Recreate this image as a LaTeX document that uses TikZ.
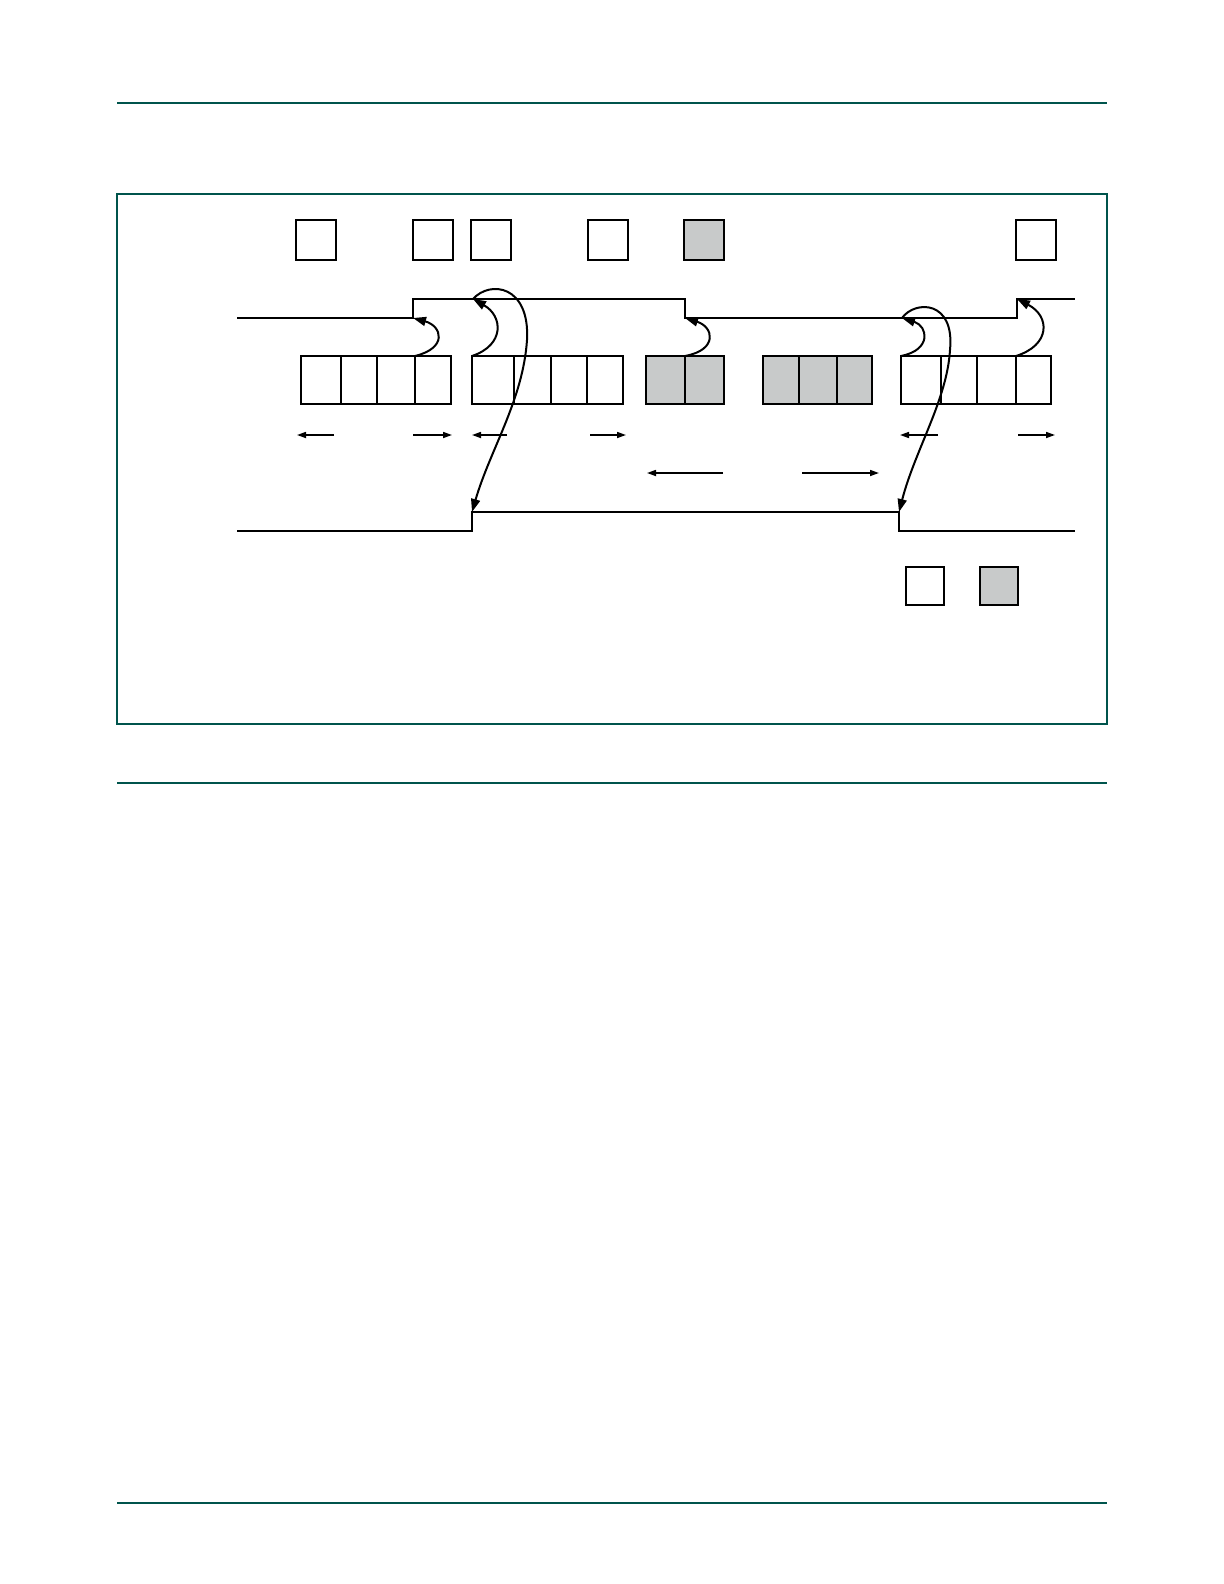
\documentclass[tikz,border=0pt]{standalone}
\usepackage{tikz}
\usetikzlibrary{arrows.meta,positioning}
\definecolor{rulegreen}{RGB}{0,84,76}
\definecolor{cellgray}{RGB}{200,202,202}

\begin{document}
\begin{tikzpicture}[x=0.5pt, y=-0.5pt,
	cell/.style = {draw, line width=1pt, minimum height=24pt, inner sep=0pt, outer sep=0pt},
	tag/.style = {draw, line width=1pt, minimum size=20pt, inner sep=0pt},
	busy/.style = {fill=cellgray},
	wave/.style = {line width=1pt},
	hop/.style = {line width=1pt, -{Triangle[length=6.5pt,width=4.5pt]}},
	dimline/.style = {line width=0.8pt, -{Triangle[length=4.5pt,width=3pt]}}]
	\useasboundingbox (0,0) rectangle (1224,1584);
	% page rules and frame
	\draw[rulegreen, line width=0.9pt] (117,103) -- (1107,103);
	\draw[rulegreen, line width=0.9pt] (117,194) rectangle (1107,724);
	\draw[rulegreen, line width=0.9pt] (117,783) -- (1107,783);
	\draw[rulegreen, line width=0.9pt] (117,1503) -- (1107,1503);
	% top tags
	\node[tag] (t1) at (315.5,240) {};
	\node[tag] (t2) at (432.5,240) {};
	\node[tag] (t3) at (491,240) {};
	\node[tag] (t4) at (607.5,240) {};
	\node[tag, busy] (t5) at (704,240) {};
	\node[tag] (t6) at (1035.5,240) {};
	% upper wave
	\coordinate (u1) at (413,318);
	\coordinate (u2) at (473,299);
	\coordinate (u3) at (685,318);
	\coordinate (u4) at (902,318);
	\coordinate (u5) at (1017,299);
	\draw[wave] (237,318) -- (u1) -- (413,299) -- (685,299) -- (u3) -- (1017,318) -- (u5) -- (1075,299);
	% lower wave
	\coordinate (l1) at (472,512);
	\coordinate (l2) at (899,512);
	\draw[wave] (237,531) -- (472,531) -- (l1) -- (l2) -- (899,531) -- (1075,531);
	% cell groups
	\node[cell, anchor=north west, minimum width=20pt] (c11) at (301,356) {};
	\node[cell, minimum width=18pt] [right=0pt of c11] (c12) {};
	\node[cell, minimum width=19pt] [right=0pt of c12] (c13) {};
	\node[cell, minimum width=18pt] [right=0pt of c13] (c14) {};
	\node[cell, anchor=north west, minimum width=21pt] (c21) at (472,356) {};
	\node[cell, minimum width=18.5pt] [right=0pt of c21] (c22) {};
	\node[cell, minimum width=18pt] [right=0pt of c22] (c23) {};
	\node[cell, minimum width=18pt] [right=0pt of c23] (c24) {};
	\node[cell, busy, anchor=north west, minimum width=19.5pt] (g11) at (646,356) {};
	\node[cell, busy, minimum width=19.5pt] [right=0pt of g11] (g12) {};
	\node[cell, busy, anchor=north west, minimum width=18pt] (g21) at (763,356) {};
	\node[cell, busy, minimum width=19pt] [right=0pt of g21] (g22) {};
	\node[cell, busy, minimum width=17.5pt] [right=0pt of g22] (g23) {};
	\node[cell, anchor=north west, minimum width=20pt] (c41) at (901,356) {};
	\node[cell, minimum width=18pt] [right=0pt of c41] (c42) {};
	\node[cell, minimum width=19.5pt] [right=0pt of c42] (c43) {};
	\node[cell, minimum width=17.5pt] [right=0pt of c43] (c44) {};
	% short hops to the upper wave
	\draw[hop] (c14.north west) .. controls (448,348) and (442,326) .. (u1);
	\draw[hop] (c21.north west) .. controls (505,345) and (503,316) .. (u2);
	\draw[hop] (g12.north west) .. controls (718,350) and (714,327) .. (u3);
	\draw[hop] (c41.north west) .. controls (932,350) and (928,326) .. (u4);
	\draw[hop] (c44.north west) .. controls (1051,345) and (1050,316) .. (u5);
	% long hops to the lower wave
	\draw[hop] (u2) .. controls (490,280) and (530,285) .. (527,340) .. controls (523,400) and (490,450) .. (l1);
	\draw[hop] (u4) .. controls (915,300) and (955,300) .. (950,350) .. controls (947,400) and (915,450) .. (l2);
	% spans
	\foreach \a/\b in {334/297, 413/452, 507/472, 590/626, 938/900, 1018/1055}
		\draw[dimline] (\a,435) -- (\b,435);
	\draw[dimline] (723,473) -- (647,473);
	\draw[dimline] (802,473) -- (879,473);
	% bottom tags
	\node[tag, minimum size=19pt] (k1) at (925,586) {};
	\node[tag, busy, minimum size=19pt] (k2) at (999,586) {};
\end{tikzpicture}
\end{document}
